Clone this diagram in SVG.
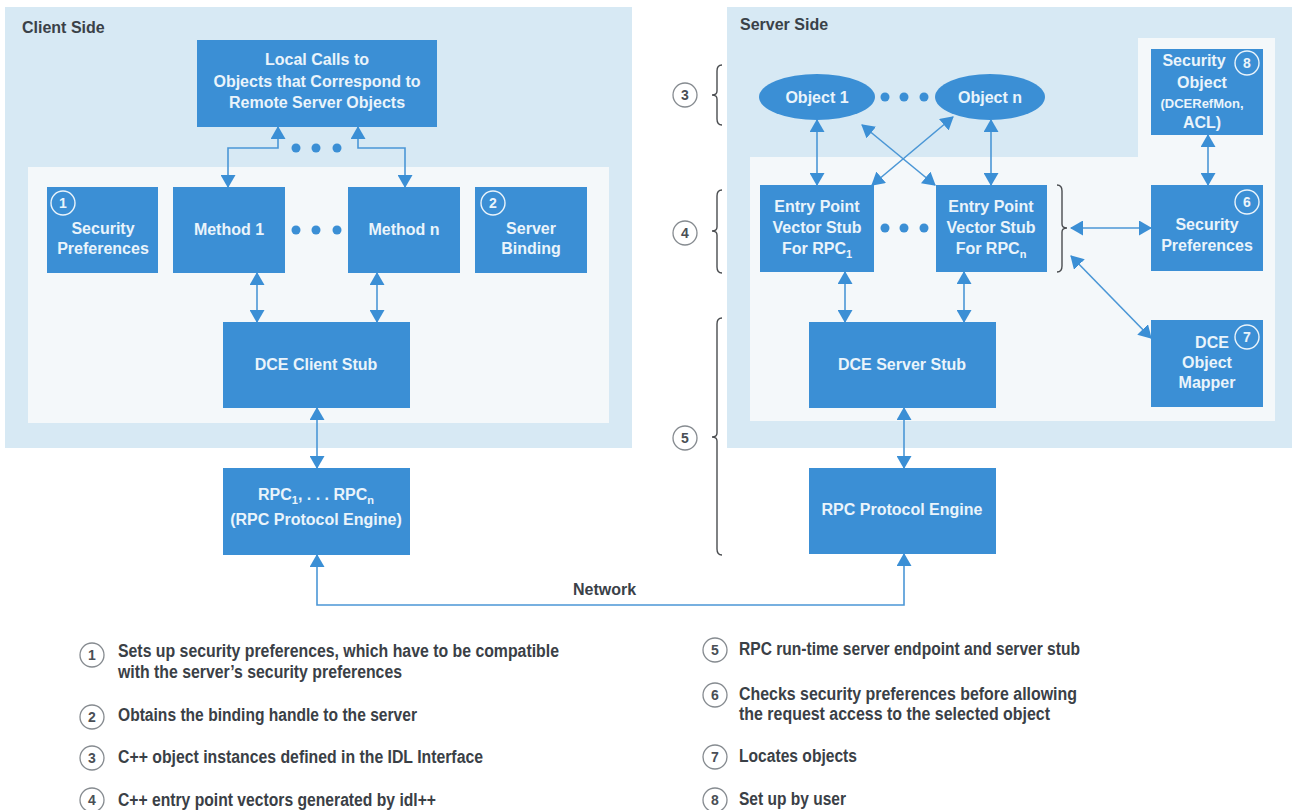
<svg xmlns="http://www.w3.org/2000/svg" width="1292" height="810" viewBox="0 0 1292 810">
<defs>
<style>
.bg{fill:#ffffff}
.outer{fill:#d7e9f4}
.inner{fill:#f4f8fa}
.box{fill:#3b8fd5}
.bt{font-family:"Liberation Sans",Arial,sans-serif;font-weight:bold;font-size:16px;fill:#eaf4fb;text-anchor:middle}
.small{font-size:13px}
.sub{font-size:11px}
.cin{fill:none;stroke:#eaf4fb;stroke-width:1.4}
.cnum{font-family:"Liberation Sans",Arial,sans-serif;font-weight:bold;font-size:14px;fill:#eaf4fb;text-anchor:middle}
.title{font-family:"Liberation Sans",Arial,sans-serif;font-weight:bold;font-size:16px;fill:#3a4148}
.conn{fill:none;stroke:#4b97d6;stroke-width:1.6;marker-start:url(#ah);marker-end:url(#ah)}
.dot{fill:#3b8fd5}
.brace{fill:none;stroke:#4a4d50;stroke-width:1.4}
.lc{fill:#ffffff;stroke:#868b90;stroke-width:1.3}
.ln{font-family:"Liberation Sans",Arial,sans-serif;font-weight:bold;font-size:14px;fill:#4a4f55;text-anchor:middle}
.lt{font-family:"Liberation Sans",Arial,sans-serif;font-weight:bold;font-size:18px;fill:#3a4046}
</style>
<marker id="ah" viewBox="0 0 13 15" refX="12" refY="7.5" markerWidth="13" markerHeight="15" markerUnits="userSpaceOnUse" orient="auto-start-reverse">
<path d="M0,0 L13,7.5 L0,15 z" fill="#3b8fd5"/>
</marker>
</defs>
<rect class="bg" x="0" y="0" width="1292" height="810"/>

<g id="client-panel">
<rect class="outer" x="5" y="7" width="627" height="441"/>
<rect class="inner" x="28" y="167" width="581" height="256"/>
<text class="title" x="22" y="33">Client Side</text>
</g>

<g id="server-panel">
<rect class="outer" x="727" y="7" width="565" height="441"/>
<path class="inner" d="M750,157 H1138 V38 H1275 V421 H750 Z"/>
<text class="title" x="740" y="30">Server Side</text>
</g>

<g id="connectors">
<path class="conn" d="M278,127 V148 H228 V187"/>
<path class="conn" d="M358,127 V148 H405 V187"/>
<path class="conn" d="M257,273 V322"/>
<path class="conn" d="M377,273 V322"/>
<path class="conn" d="M317,408 V468"/>
<path class="conn" d="M317,555 V605 H904 V554"/>
<path class="conn" d="M817,120 V185"/>
<path class="conn" d="M991,120 V185"/>
<path class="conn" d="M862,125 L935,185"/>
<path class="conn" d="M953,117 L872,185"/>
<path class="conn" d="M845,272 V322"/>
<path class="conn" d="M964,272 V322"/>
<path class="conn" d="M904,408 V468"/>
<path class="conn" d="M1208,135 V185"/>
<path class="conn" d="M1071,228 H1151"/>
<path class="conn" d="M1071,256 L1151,338"/>
<text class="title" x="573" y="595">Network</text>
</g>

<g id="dots">
<circle class="dot" cx="296" cy="148" r="4.5"/><circle class="dot" cx="316" cy="148" r="4.5"/><circle class="dot" cx="337" cy="148" r="4.5"/>
<circle class="dot" cx="296" cy="230" r="4.5"/><circle class="dot" cx="316" cy="230" r="4.5"/><circle class="dot" cx="337" cy="230" r="4.5"/>
<circle class="dot" cx="885" cy="97" r="4.5"/><circle class="dot" cx="904" cy="97" r="4.5"/><circle class="dot" cx="924" cy="97" r="4.5"/>
<circle class="dot" cx="885" cy="228" r="4.5"/><circle class="dot" cx="904" cy="228" r="4.5"/><circle class="dot" cx="924" cy="228" r="4.5"/>
</g>

<g id="local-calls">
<rect class="box" x="197" y="40" width="240" height="87"/>
<text class="bt" x="317" y="65">Local Calls to</text>
<text class="bt" x="317" y="87">Objects that Correspond to</text>
<text class="bt" x="317" y="108">Remote Server Objects</text>
</g>

<g id="client-security-preferences">
<rect class="box" x="47" y="187" width="111" height="86"/>
<circle class="cin" cx="63" cy="203" r="12"/>
<text class="cnum" x="63" y="208">1</text>
<text class="bt" x="103" y="234">Security</text>
<text class="bt" x="103" y="254">Preferences</text>
</g>

<g id="method-1">
<rect class="box" x="173" y="187" width="112" height="86"/>
<text class="bt" x="229" y="235">Method 1</text>
</g>

<g id="method-n">
<rect class="box" x="348" y="187" width="112" height="86"/>
<text class="bt" x="404" y="235">Method n</text>
</g>

<g id="server-binding">
<rect class="box" x="475" y="187" width="112" height="86"/>
<circle class="cin" cx="493" cy="203" r="12"/>
<text class="cnum" x="493" y="208">2</text>
<text class="bt" x="531" y="234">Server</text>
<text class="bt" x="531" y="254">Binding</text>
</g>

<g id="dce-client-stub">
<rect class="box" x="223" y="322" width="187" height="86"/>
<text class="bt" x="316" y="370">DCE Client Stub</text>
</g>

<g id="client-rpc-engine">
<rect class="box" x="223" y="468" width="187" height="87"/>
<text class="bt" x="316" y="500">RPC<tspan class="sub" dy="4">1</tspan><tspan dy="-4">, . . . RPC</tspan><tspan class="sub" dy="4">n</tspan></text>
<text class="bt" x="316" y="525">(RPC Protocol Engine)</text>
</g>

<g id="object-1">
<ellipse class="box" cx="817" cy="97" rx="58" ry="23"/>
<text class="bt" x="817" y="103">Object 1</text>
</g>

<g id="object-n">
<ellipse class="box" cx="990" cy="97" rx="55" ry="23"/>
<text class="bt" x="990" y="103">Object n</text>
</g>

<g id="security-object">
<rect class="box" x="1151" y="49" width="112" height="86"/>
<circle class="cin" cx="1247" cy="63" r="12"/>
<text class="cnum" x="1247" y="68">8</text>
<text class="bt" x="1194" y="66">Security</text>
<text class="bt" x="1202" y="88">Object</text>
<text class="bt small" x="1202" y="108">(DCERefMon,</text>
<text class="bt" x="1202" y="128">ACL)</text>
</g>

<g id="entry-point-1">
<rect class="box" x="760" y="185" width="114" height="87"/>
<text class="bt" x="817" y="212">Entry Point</text>
<text class="bt" x="817" y="233">Vector Stub</text>
<text class="bt" x="817" y="254">For RPC<tspan class="sub" dy="4">1</tspan></text>
</g>

<g id="entry-point-n">
<rect class="box" x="936" y="185" width="111" height="87"/>
<text class="bt" x="991" y="212">Entry Point</text>
<text class="bt" x="991" y="233">Vector Stub</text>
<text class="bt" x="991" y="254">For RPC<tspan class="sub" dy="4">n</tspan></text>
</g>

<g id="server-security-preferences">
<rect class="box" x="1151" y="185" width="112" height="86"/>
<circle class="cin" cx="1247" cy="202" r="12"/>
<text class="cnum" x="1247" y="207">6</text>
<text class="bt" x="1207" y="230">Security</text>
<text class="bt" x="1207" y="251">Preferences</text>
</g>

<g id="dce-server-stub">
<rect class="box" x="809" y="322" width="187" height="86"/>
<text class="bt" x="902" y="370">DCE Server Stub</text>
</g>

<g id="dce-object-mapper">
<rect class="box" x="1151" y="320" width="112" height="87"/>
<circle class="cin" cx="1247" cy="337" r="12"/>
<text class="cnum" x="1247" y="342">7</text>
<text class="bt" x="1212" y="348">DCE</text>
<text class="bt" x="1207" y="368">Object</text>
<text class="bt" x="1207" y="388">Mapper</text>
</g>

<g id="server-rpc-engine">
<rect class="box" x="809" y="468" width="187" height="86"/>
<text class="bt" x="902" y="515">RPC Protocol Engine</text>
</g>

<g id="braces">
<path class="brace" d="M722,65 Q717,65 717,71 V91 Q717,95 712,95 Q717,95 717,99 V119 Q717,125 722,125"/>
<path class="brace" d="M722,190 Q717,190 717,196 V227 Q717,231 712,231 Q717,231 717,235 V267 Q717,273 722,273"/>
<path class="brace" d="M722,318 Q717,318 717,324 V433 Q717,437 712,437 Q717,437 717,441 V549 Q717,555 722,555"/>
<path class="brace" d="M1057,185 Q1062,185 1062,191 V224 Q1062,228 1067,228 Q1062,228 1062,232 V266 Q1062,272 1057,272"/>
<circle class="lc" cx="685" cy="95" r="12"/><text class="ln" x="685" y="100">3</text>
<circle class="lc" cx="685" cy="233" r="12"/><text class="ln" x="685" y="238">4</text>
<circle class="lc" cx="685" cy="438" r="12"/><text class="ln" x="685" y="443">5</text>
</g>

<g id="legend">
<circle class="lc" cx="92" cy="655" r="12"/><text class="ln" x="92" y="660">1</text>
<text class="lt" x="118" y="657" textLength="441" lengthAdjust="spacingAndGlyphs">Sets up security preferences, which have to be compatible</text>
<text class="lt" x="118" y="678" textLength="284" lengthAdjust="spacingAndGlyphs">with the server’s security preferences</text>
<circle class="lc" cx="92" cy="717" r="12"/><text class="ln" x="92" y="722">2</text>
<text class="lt" x="118" y="721" textLength="299" lengthAdjust="spacingAndGlyphs">Obtains the binding handle to the server</text>
<circle class="lc" cx="92" cy="758" r="12"/><text class="ln" x="92" y="763">3</text>
<text class="lt" x="118" y="763" textLength="365" lengthAdjust="spacingAndGlyphs">C++ object instances defined in the IDL Interface</text>
<circle class="lc" cx="92" cy="800" r="12"/><text class="ln" x="92" y="805">4</text>
<text class="lt" x="118" y="806" textLength="318" lengthAdjust="spacingAndGlyphs">C++ entry point vectors generated by idl++</text>
<circle class="lc" cx="715" cy="650" r="12"/><text class="ln" x="715" y="655">5</text>
<text class="lt" x="739" y="655" textLength="341" lengthAdjust="spacingAndGlyphs">RPC run-time server endpoint and server stub</text>
<circle class="lc" cx="715" cy="695" r="12"/><text class="ln" x="715" y="700">6</text>
<text class="lt" x="739" y="700" textLength="338" lengthAdjust="spacingAndGlyphs">Checks security preferences before allowing</text>
<text class="lt" x="739" y="720" textLength="311" lengthAdjust="spacingAndGlyphs">the request access to the selected object</text>
<circle class="lc" cx="715" cy="757" r="12"/><text class="ln" x="715" y="762">7</text>
<text class="lt" x="739" y="762" textLength="118" lengthAdjust="spacingAndGlyphs">Locates objects</text>
<circle class="lc" cx="715" cy="800" r="12"/><text class="ln" x="715" y="805">8</text>
<text class="lt" x="739" y="805" textLength="107" lengthAdjust="spacingAndGlyphs">Set up by user</text>
</g>
</svg>
